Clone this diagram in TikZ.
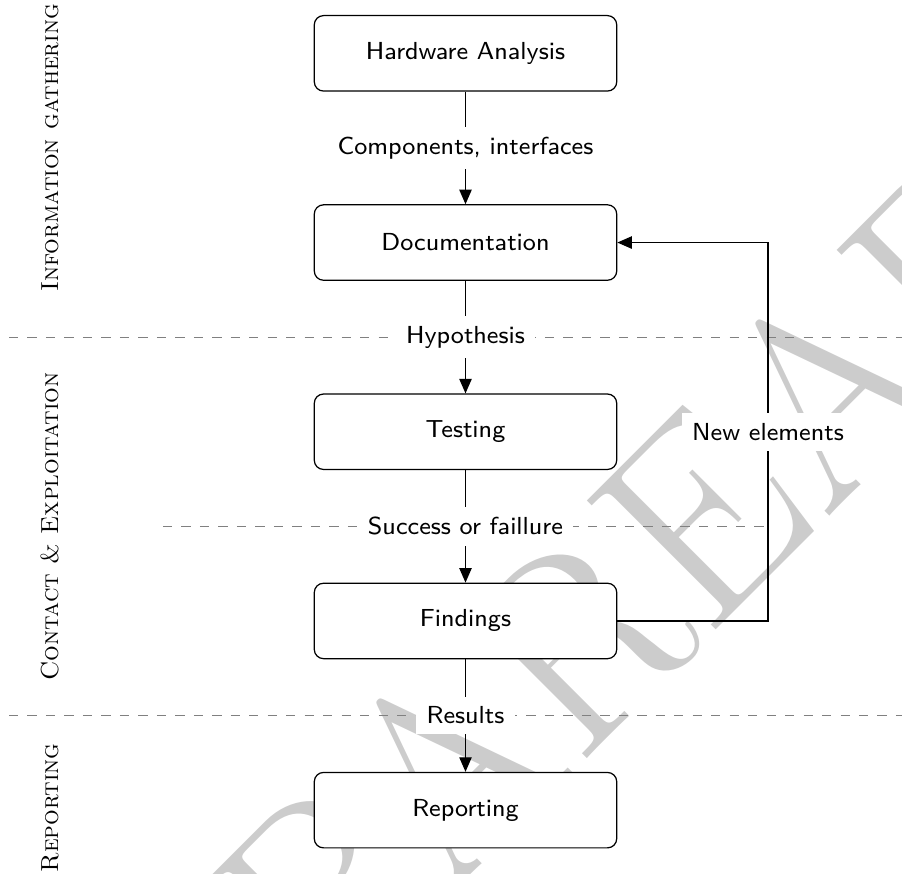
\documentclass[tikz,border=0pt]{standalone}
\usetikzlibrary{arrows.meta,calc}
\tikzset{
  stage/.style={draw, rounded corners=3pt, fill=white,
    minimum width=98.2pt, minimum height=24.5pt,
    font=\fontsize{8}{9.6}\selectfont\sffamily},
  flow/.style={-{Triangle[length=4.7pt,width=4pt]}},
  steplabel/.style={fill=white, font=\fontsize{8}{9.6}\selectfont\sffamily},
  phase/.style={rotate=90, anchor=base, font=\fontsize{8}{9.6}\selectfont\scshape},
  divider/.style={gray, dashed},
  watermark/.style={rotate=45, anchor=base west, inner sep=0pt,
    text=black!20, font=\fontsize{86.9}{88}\selectfont}
}
\begin{document}
\begin{tikzpicture}[x=0.3247pt,y=-0.3247pt]
\useasboundingbox (0,0) rectangle (902,874);

% background watermark
\begin{scope}
  \clip (0,0) rectangle (902,874);
  \node[watermark] (wm) at (446,900) {\llap{P}AREAD};
\end{scope}

% process stages
\node[stage] (hw)   at (465.5,53.35)  {Hardware Analysis};
\node[stage] (doc)  at (465.5,242.55) {Documentation};
\node[stage] (test) at (465.5,431.75) {Testing};
\node[stage] (find) at (465.5,620.95) {Findings};
\node[stage] (rep)  at (465.5,810.15) {Reporting};

% phase names along the left margin
\node[phase] (ph1) at (58.3,147.95) {Information gathering};
\node[phase] (ph2) at (58.3,526.35) {Contact \& Exploitation};
\node[phase] (ph3) at (58.3,808)    {Reporting};

% helper abscissae
\coordinate (lft)  at (9,0);
\coordinate (rgt)  at (902,0);
\coordinate (midl) at (163,0);
\coordinate (loop) at (768,0);

\coordinate (m2) at ($(doc.south)!0.5!(test.north)$);
\coordinate (m3) at ($(test.south)!0.5!(find.north)$);
\coordinate (m4) at ($(find.south)!0.5!(rep.north)$);

% phase boundaries
\draw[divider] (m2 -| lft)  -- (m2 -| rgt);
\draw[divider] (m3 -| midl) -- (m3 -| loop);
\draw[divider] (m4 -| lft)  -- (m4 -| rgt);

% flow
\draw[flow] (hw)   -- node[steplabel] {Components, interfaces} (doc);
\draw[flow] (doc)  -- node[steplabel] {Hypothesis} (test);
\draw[flow] (test) -- node[steplabel] {Success or faillure} (find);
\draw[flow] (find) -- node[steplabel] {Results} (rep);
\draw[flow] (find.east) -- (find.east -| loop)
  -- node[steplabel] {New elements} (doc.east -| loop) -- (doc.east);
\end{tikzpicture}
\end{document}
